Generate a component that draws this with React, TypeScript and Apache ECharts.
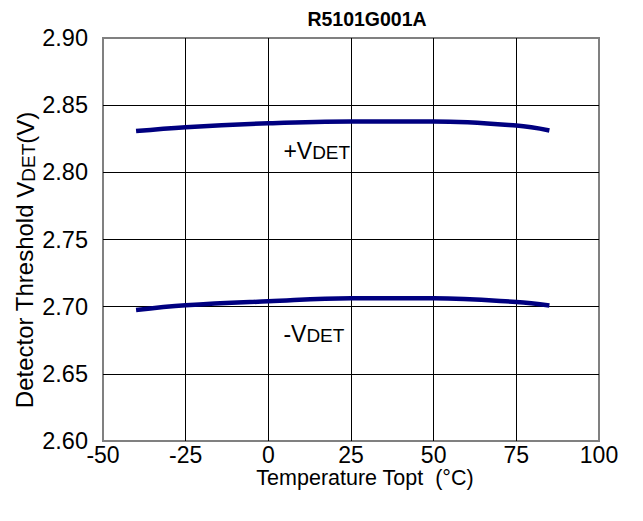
import React, { useEffect, useRef } from "react";
import * as echarts from "echarts";

const temperatures = [-40, -25, 0, 25, 50, 75, 85];
const plusVdet = [2.8307, 2.8336, 2.8365, 2.8378, 2.8378, 2.8348, 2.8312];
const minusVdet = [2.6975, 2.701, 2.704, 2.7062, 2.7062, 2.7035, 2.7008];
const xTicks = { min: -50, max: 100, interval: 25 };
const yTicks = { min: 2.6, max: 2.9, interval: 0.05 };
const titleText = "R5101G001A";
const xName = "Temperature Topt  (°C)";
const yNameParts = ["Detector Threshold ", "V", "DET", "(V)"];
const plusLabel = ["+V", "DET"];
const minusLabel = ["-V", "DET"];
const plusLabelAt = [4.4, 2.8168];
const minusLabelAt = [4.4, 2.6805];

const FONT = "'Liberation Sans', Arial, sans-serif";

export default function App() {
  const ref = useRef<HTMLDivElement>(null);
  useEffect(() => {
    if (!ref.current) return;
    const chart = echarts.init(ref.current, undefined, { renderer: "svg" });
    const lineStyle = { color: "#000080", width: 4.5 };
    const rich = {
      v: { fontSize: 23, fontFamily: FONT, color: "#000", verticalAlign: "bottom", lineHeight: 25 },
      d: { fontSize: 19, fontFamily: FONT, color: "#000", verticalAlign: "bottom", lineHeight: 23 },
    };
    const mp = (at: number[], parts: string[]) => ({
      symbol: "circle",
      symbolSize: 1,
      itemStyle: { color: "transparent" },
      data: [
        {
          coord: at,
          label: {
            show: true,
            position: "right",
            distance: 0,
            formatter: `{v|${parts[0]}}{d|${parts[1]}}`,
            rich,
          },
        },
      ],
    });
    chart.setOption({
      animation: false,
      backgroundColor: "#fff",
      title: {
        text: titleText,
        left: 362,
        top: 4,
        textAlign: "center",
        textStyle: { fontFamily: FONT, fontWeight: "bold", fontSize: 19.5, color: "#000" },
      },
      grid: {
        left: 103,
        right: 44,
        top: 38,
        bottom: 80,
        show: true,
        borderColor: "#808080",
        borderWidth: 2,
        backgroundColor: "transparent",
      },
      graphic: [
        {
          type: "text",
          x: 24,
          y: 260,
          rotation: Math.PI / 2,
          style: {
            text: `${yNameParts[0]}{v|${yNameParts[1]}}{d|${yNameParts[2]}}{v|${yNameParts[3]}}`,
            fontFamily: FONT,
            fontSize: 24,
            fill: "#000",
            align: "center",
            verticalAlign: "middle",
            rich: {
              v: { fontSize: 24, fontFamily: FONT, fill: "#000", verticalAlign: "bottom", lineHeight: 27 },
              d: { fontSize: 19, fontFamily: FONT, fill: "#000", verticalAlign: "bottom", lineHeight: 25 },
            },
          },
        },
      ],
      xAxis: {
        type: "value",
        min: xTicks.min,
        max: xTicks.max,
        interval: xTicks.interval,
        axisLine: { show: false },
        axisTick: { show: false },
        splitLine: { show: true, showMinLine: false, showMaxLine: false, lineStyle: { color: "#000", width: 1 } },
        axisLabel: { fontFamily: FONT, fontSize: 23, lineHeight: 22, color: "#000", margin: 3 },
        name: xName,
        nameLocation: "middle",
        nameGap: 26,
        nameMoveOverlap: false,
        nameTextStyle: {
          fontFamily: FONT,
          fontSize: 21.5,
          lineHeight: 21,
          color: "#000",
          verticalAlign: "top",
          padding: [0, 0, 0, 28],
        },
      },
      yAxis: {
        type: "value",
        min: yTicks.min,
        max: yTicks.max,
        interval: yTicks.interval,
        axisLine: { show: false },
        axisTick: { show: false },
        splitLine: { show: true, showMinLine: false, showMaxLine: false, lineStyle: { color: "#000", width: 1 } },
        axisLabel: {
          fontFamily: FONT,
          fontSize: 23.5,
          color: "#000",
          margin: 15,
          formatter: (v: number) => v.toFixed(2),
        },
      },
      series: [
        {
          type: "line",
          data: temperatures.map((t, i) => [t, plusVdet[i]]),
          smooth: 0.4,
          symbol: "none",
          lineStyle,
          markPoint: mp(plusLabelAt, plusLabel),
        },
        {
          type: "line",
          data: temperatures.map((t, i) => [t, minusVdet[i]]),
          smooth: 0.4,
          symbol: "none",
          lineStyle,
          markPoint: mp(minusLabelAt, minusLabel),
        },
      ],
    });
    return () => chart.dispose();
  }, []);
  return (
    <div
      ref={ref}
      style={{ position: "fixed", left: 0, top: 0, width: 643, height: 521 }}
    />
  );
}
